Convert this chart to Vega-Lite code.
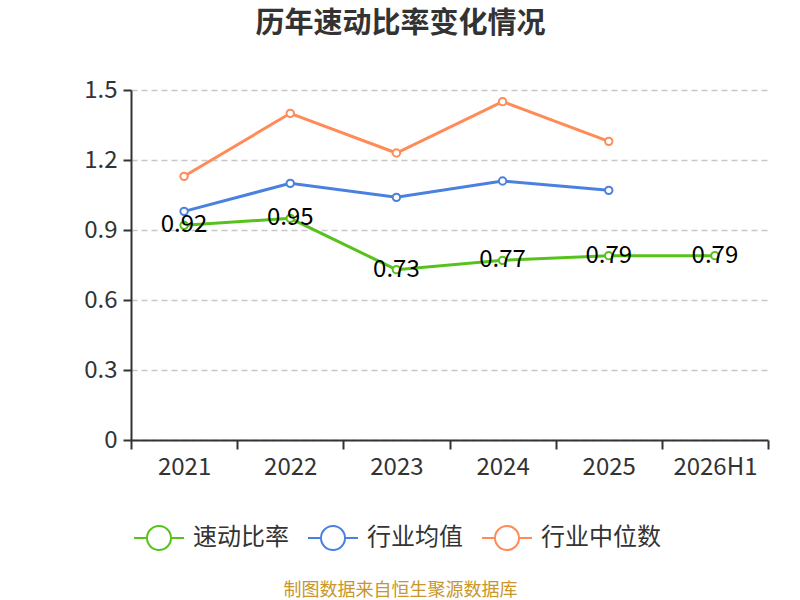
{
  "$schema": "https://vega.github.io/schema/vega-lite/v6.json",
  "width": 637,
  "height": 350,
  "autosize": {"type": "none"},
  "padding": {"left": 131, "top": 90, "right": 32, "bottom": 160},
  "background": "white",
  "config": {
    "font": "Noto Sans CJK SC",
    "view": {"stroke": null}
  },
  "title": {
    "text": "历年速动比率变化情况",
    "fontSize": 29,
    "fontWeight": "bold",
    "color": "#333333",
    "anchor": "middle",
    "dx": -49,
    "offset": 39,
    "font": "Noto Sans CJK SC"
  },
  "data": {
    "values": [
      {"year": "2021", "series": "速动比率", "value": 0.92},
      {"year": "2022", "series": "速动比率", "value": 0.95},
      {"year": "2023", "series": "速动比率", "value": 0.73},
      {"year": "2024", "series": "速动比率", "value": 0.77},
      {"year": "2025", "series": "速动比率", "value": 0.79},
      {"year": "2026H1", "series": "速动比率", "value": 0.79},
      {"year": "2021", "series": "行业均值", "value": 0.98},
      {"year": "2022", "series": "行业均值", "value": 1.10},
      {"year": "2023", "series": "行业均值", "value": 1.04},
      {"year": "2024", "series": "行业均值", "value": 1.11},
      {"year": "2025", "series": "行业均值", "value": 1.07},
      {"year": "2021", "series": "行业中位数", "value": 1.13},
      {"year": "2022", "series": "行业中位数", "value": 1.40},
      {"year": "2023", "series": "行业中位数", "value": 1.23},
      {"year": "2024", "series": "行业中位数", "value": 1.45},
      {"year": "2025", "series": "行业中位数", "value": 1.28}
    ]
  },
  "encoding": {
    "x": {
      "field": "year",
      "type": "ordinal",
      "bandPosition": 0.5,
      "scale": {"type": "band", "paddingInner": 0, "paddingOuter": 0},
      "axis": {
        "title": "制图数据来自恒生聚源数据库",
        "titleColor": "#c8962a",
        "titleFontSize": 18,
        "titleFontWeight": "normal",
        "titleX": 269,
        "titleY": 150,
        "titleBaseline": "middle",
        "titleAnchor": "middle",
        "labelAngle": 0,
        "labelFontSize": 24,
        "labelColor": "#333333",
        "labelPadding": 6,
        "domainColor": "#333333",
        "domainWidth": 2,
        "tickColor": "#333333",
        "tickWidth": 2,
        "tickSize": 9,
        "tickBand": "extent",
        "grid": false
      }
    },
    "y": {
      "field": "value",
      "type": "quantitative",
      "scale": {"domain": [0, 1.5], "nice": false},
      "axis": {
        "title": null,
        "values": [0, 0.3, 0.6, 0.9, 1.2, 1.5],
        "labelExpr": "datum.value == 0 ? '0' : format(datum.value, '.1f')",
        "labelFontSize": 24,
        "labelColor": "#333333",
        "labelPadding": 6,
        "domainColor": "#333333",
        "domainWidth": 2,
        "tickColor": "#333333",
        "tickWidth": 2,
        "tickSize": 8,
        "grid": true,
        "gridColor": "#c8c8c8",
        "gridDash": [6, 4],
        "gridWidth": 1.5
      }
    }
  },
  "layer": [
    {
      "mark": {
        "type": "line",
        "strokeWidth": 3,
        "point": {"filled": false, "fill": "white", "size": 55, "strokeWidth": 2}
      },
      "encoding": {
        "color": {
          "field": "series",
          "type": "nominal",
          "scale": {
            "domain": ["速动比率", "行业均值", "行业中位数"],
            "range": ["#58c21d", "#4a80e0", "#ff8c58"]
          },
          "legend": {
            "title": null,
            "orient": "none",
            "direction": "horizontal",
            "legendX": 2,
            "legendY": 422,
            "labelFontSize": 24,
            "labelColor": "#333333",
            "labelOffset": 8,
            "columnPadding": 15,
            "symbolType": "M-1,0L-0.48,0M0.48,0L1,0M0.48,0A0.48,0.48,0,1,1,-0.48,0A0.48,0.48,0,1,1,0.48,0",
            "symbolSize": 2500,
            "symbolStrokeWidth": 2,
            "symbolFillColor": "white"
          }
        }
      }
    },
    {
      "transform": [{"filter": "datum.series == '速动比率'"}],
      "mark": {
        "type": "text",
        "fontSize": 24,
        "color": "#000000",
        "baseline": "middle",
        "align": "center",
        "dy": 0
      },
      "encoding": {
        "text": {"field": "value", "type": "quantitative", "format": ".2f"}
      }
    }
  ]
}
